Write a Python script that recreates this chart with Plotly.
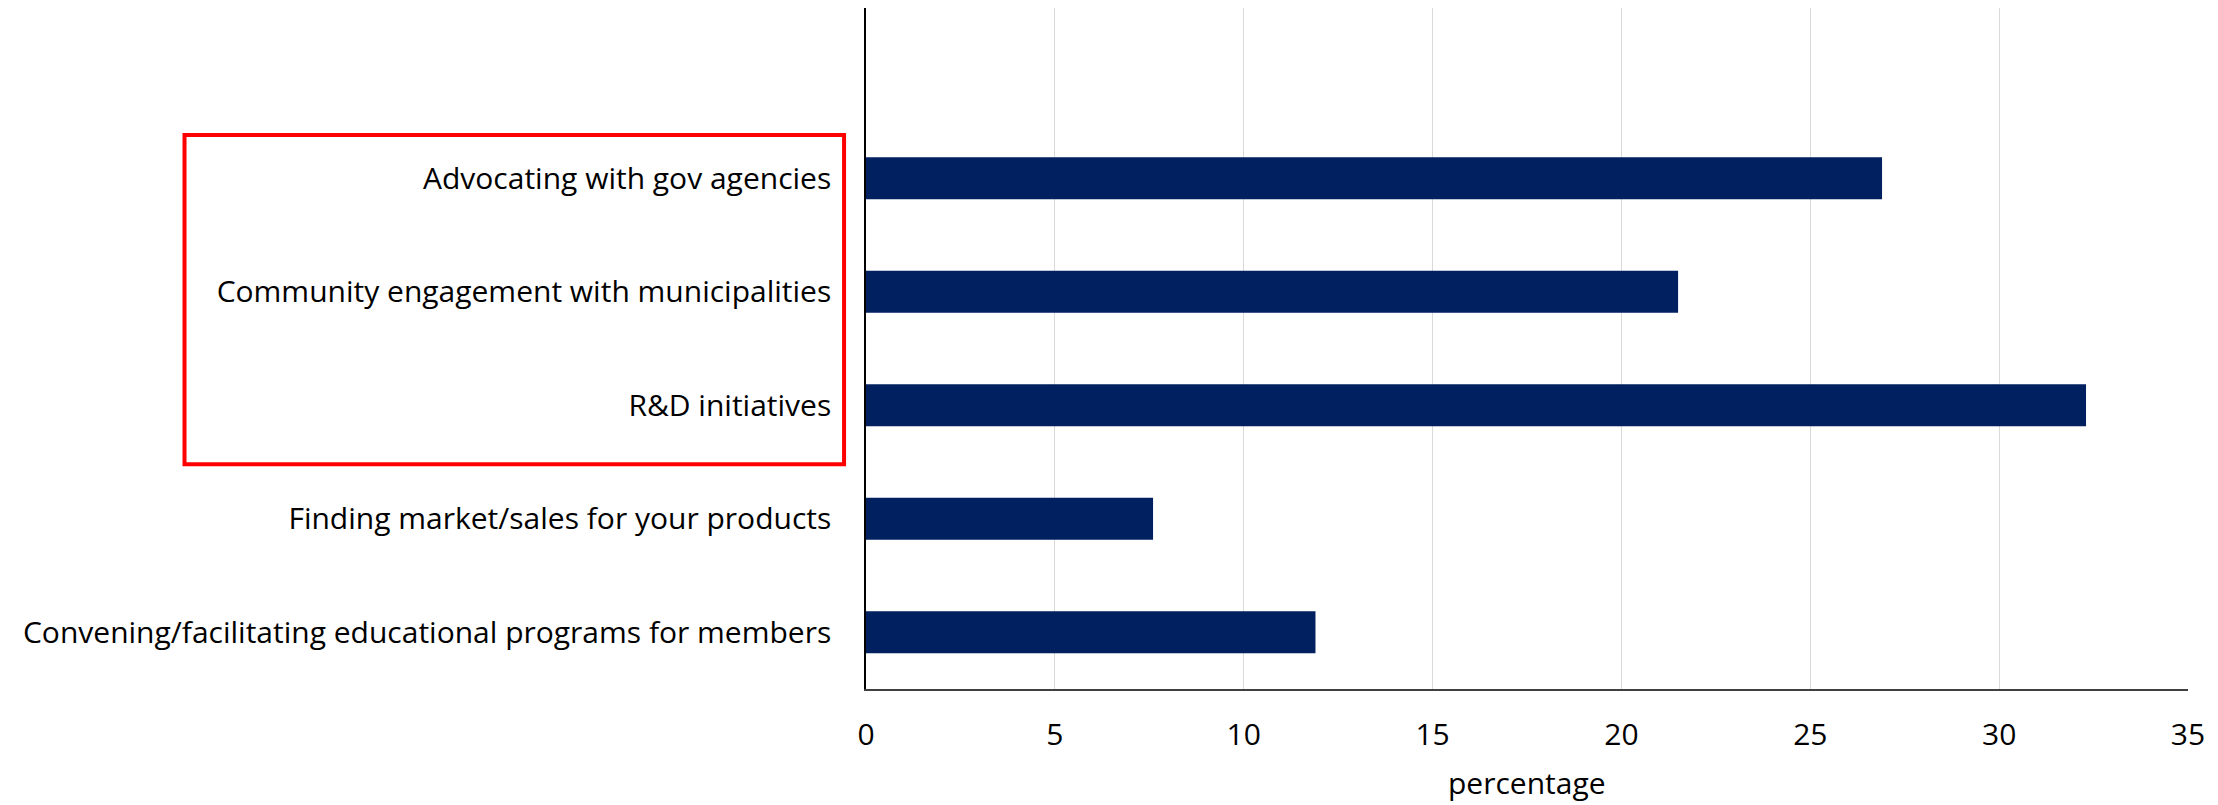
import plotly.graph_objects as go

categories = [
    "Convening/facilitating educational programs for members",
    "Finding market/sales for your products",
    "R&D initiatives",
    "Community engagement with municipalities",
    "Advocating with gov agencies",
]
values = [11.9, 7.6, 32.3, 21.5, 26.9]
positions = [0, 1, 2, 3, 4]
x_ticks = [0, 5, 10, 15, 20, 25, 30, 35]

FONT = "Open Sans"
FS = 30

fig = go.Figure()
fig.add_trace(go.Bar(
    x=values, y=positions, orientation="h",
    marker=dict(color="#002060", line=dict(width=0)),
    width=0.37,
))

# page body has an 8px margin, so the figure is sized to fit the window
fig.update_layout(
    width=2210, height=797,
    margin=dict(l=858, r=30, t=0, b=116),
    paper_bgcolor="white", plot_bgcolor="white",
    showlegend=False,
    font=dict(family=FONT, color="black", size=FS),
    xaxis=dict(
        range=[0, 35], tickvals=x_ticks, ticktext=[str(v) for v in x_ticks],
        showgrid=True, gridcolor="#d9d9d9", gridwidth=1,
        showline=True, linecolor="#404040", linewidth=2,
        zeroline=False, ticks="", ticklabelstandoff=18,
        tickfont=dict(size=FS), automargin=False,
    ),
    yaxis=dict(
        range=[-0.5, 5.5], tickvals=positions, ticktext=categories,
        showgrid=False, showline=True, linecolor="black", linewidth=1.5,
        zeroline=False, ticks="", ticklabelstandoff=27,
        tickfont=dict(size=FS), automargin=False,
    ),
    annotations=[dict(
        text="percentage", xref="paper", yref="paper",
        x=0.5, y=-0.137, xanchor="center", yanchor="middle",
        showarrow=False, font=dict(size=FS),
    )],
    shapes=[dict(
        type="rect", xref="paper", yref="y",
        x0=-0.5155, x1=-0.0166, y0=1.48, y1=4.38,
        line=dict(color="#ff0000", width=4),
    )],
)

fig.write_html("out.html")
